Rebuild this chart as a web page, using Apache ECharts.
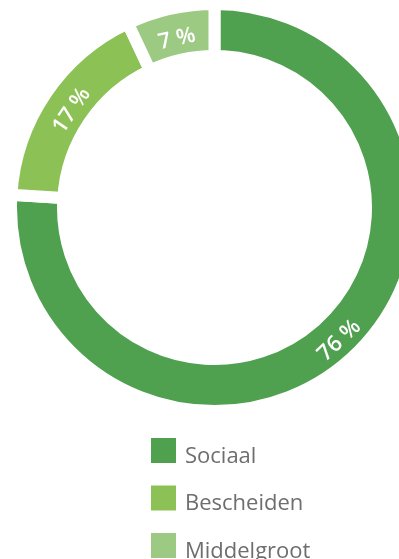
<!DOCTYPE html>
<html>
<head>
<meta charset="utf-8">
<style>
  html, body { margin: 0; padding: 0; background: #ffffff; }
  #chart { width: 399px; height: 559px; }
</style>
<script src="https://cdn.jsdelivr.net/npm/echarts@6/dist/echarts.min.js"></script>
</head>
<body>
<div id="chart"></div>
<script>
// Housing segments and their shares (percent)
const categories = ['Sociaal', 'Bescheiden', 'Middelgroot'];
const shares = [76, 17, 7];
const colors = ['#4fa150', '#8bc155', '#9cca83'];

const chart = echarts.init(document.getElementById('chart'), null, { renderer: 'canvas' });

chart.setOption({
  animation: false,
  color: colors,
  legend: {
    orient: 'vertical',
    left: 151,
    top: 438,
    padding: 0,
    height: 200,
    icon: 'rect',
    itemWidth: 25,
    itemHeight: 25,
    itemGap: 18,
    itemStyle: { borderWidth: 0 },
    formatter: name => '{t|' + name + '}',
    textStyle: {
      fontFamily: 'Open Sans',
      fontSize: 22,
      color: '#6e6e6e',
      rich: {
        t: {
          fontFamily: 'Open Sans',
          fontSize: 22,
          color: '#6e6e6e',
          padding: [12, 0, 0, 4]
        }
      }
    },
    data: categories
  },
  series: [{
    type: 'pie',
    center: [214.5, 207.5],
    radius: [151.5, 203.5],
    startAngle: 90,
    clockwise: true,
    avoidLabelOverlap: false,
    itemStyle: {
      borderColor: '#ffffff',
      borderWidth: 12
    },
    label: {
      show: true,
      position: 'inside',
      rotate: 'tangential',
      color: '#ffffff',
      fontFamily: 'Open Sans',
      fontSize: 22,
      fontWeight: 600,
      // labels on the upper arc sit a little lower in their own frame
      formatter: p => (p.dataIndex === 0 ? '{lo|' : '{up|') + p.value + ' %}',
      rich: {
        lo: {
          color: '#ffffff', fontFamily: 'Open Sans', fontSize: 22, fontWeight: 600,
          padding: [4, 0, 0, 0]
        },
        up: {
          color: '#ffffff', fontFamily: 'Open Sans', fontSize: 22, fontWeight: 600,
          padding: [16, 0, 0, 0]
        }
      }
    },
    labelLine: { show: false },
    emphasis: { disabled: true },
    data: categories.map((name, i) => ({ name, value: shares[i] }))
  }]
});
</script>
</body>
</html>
